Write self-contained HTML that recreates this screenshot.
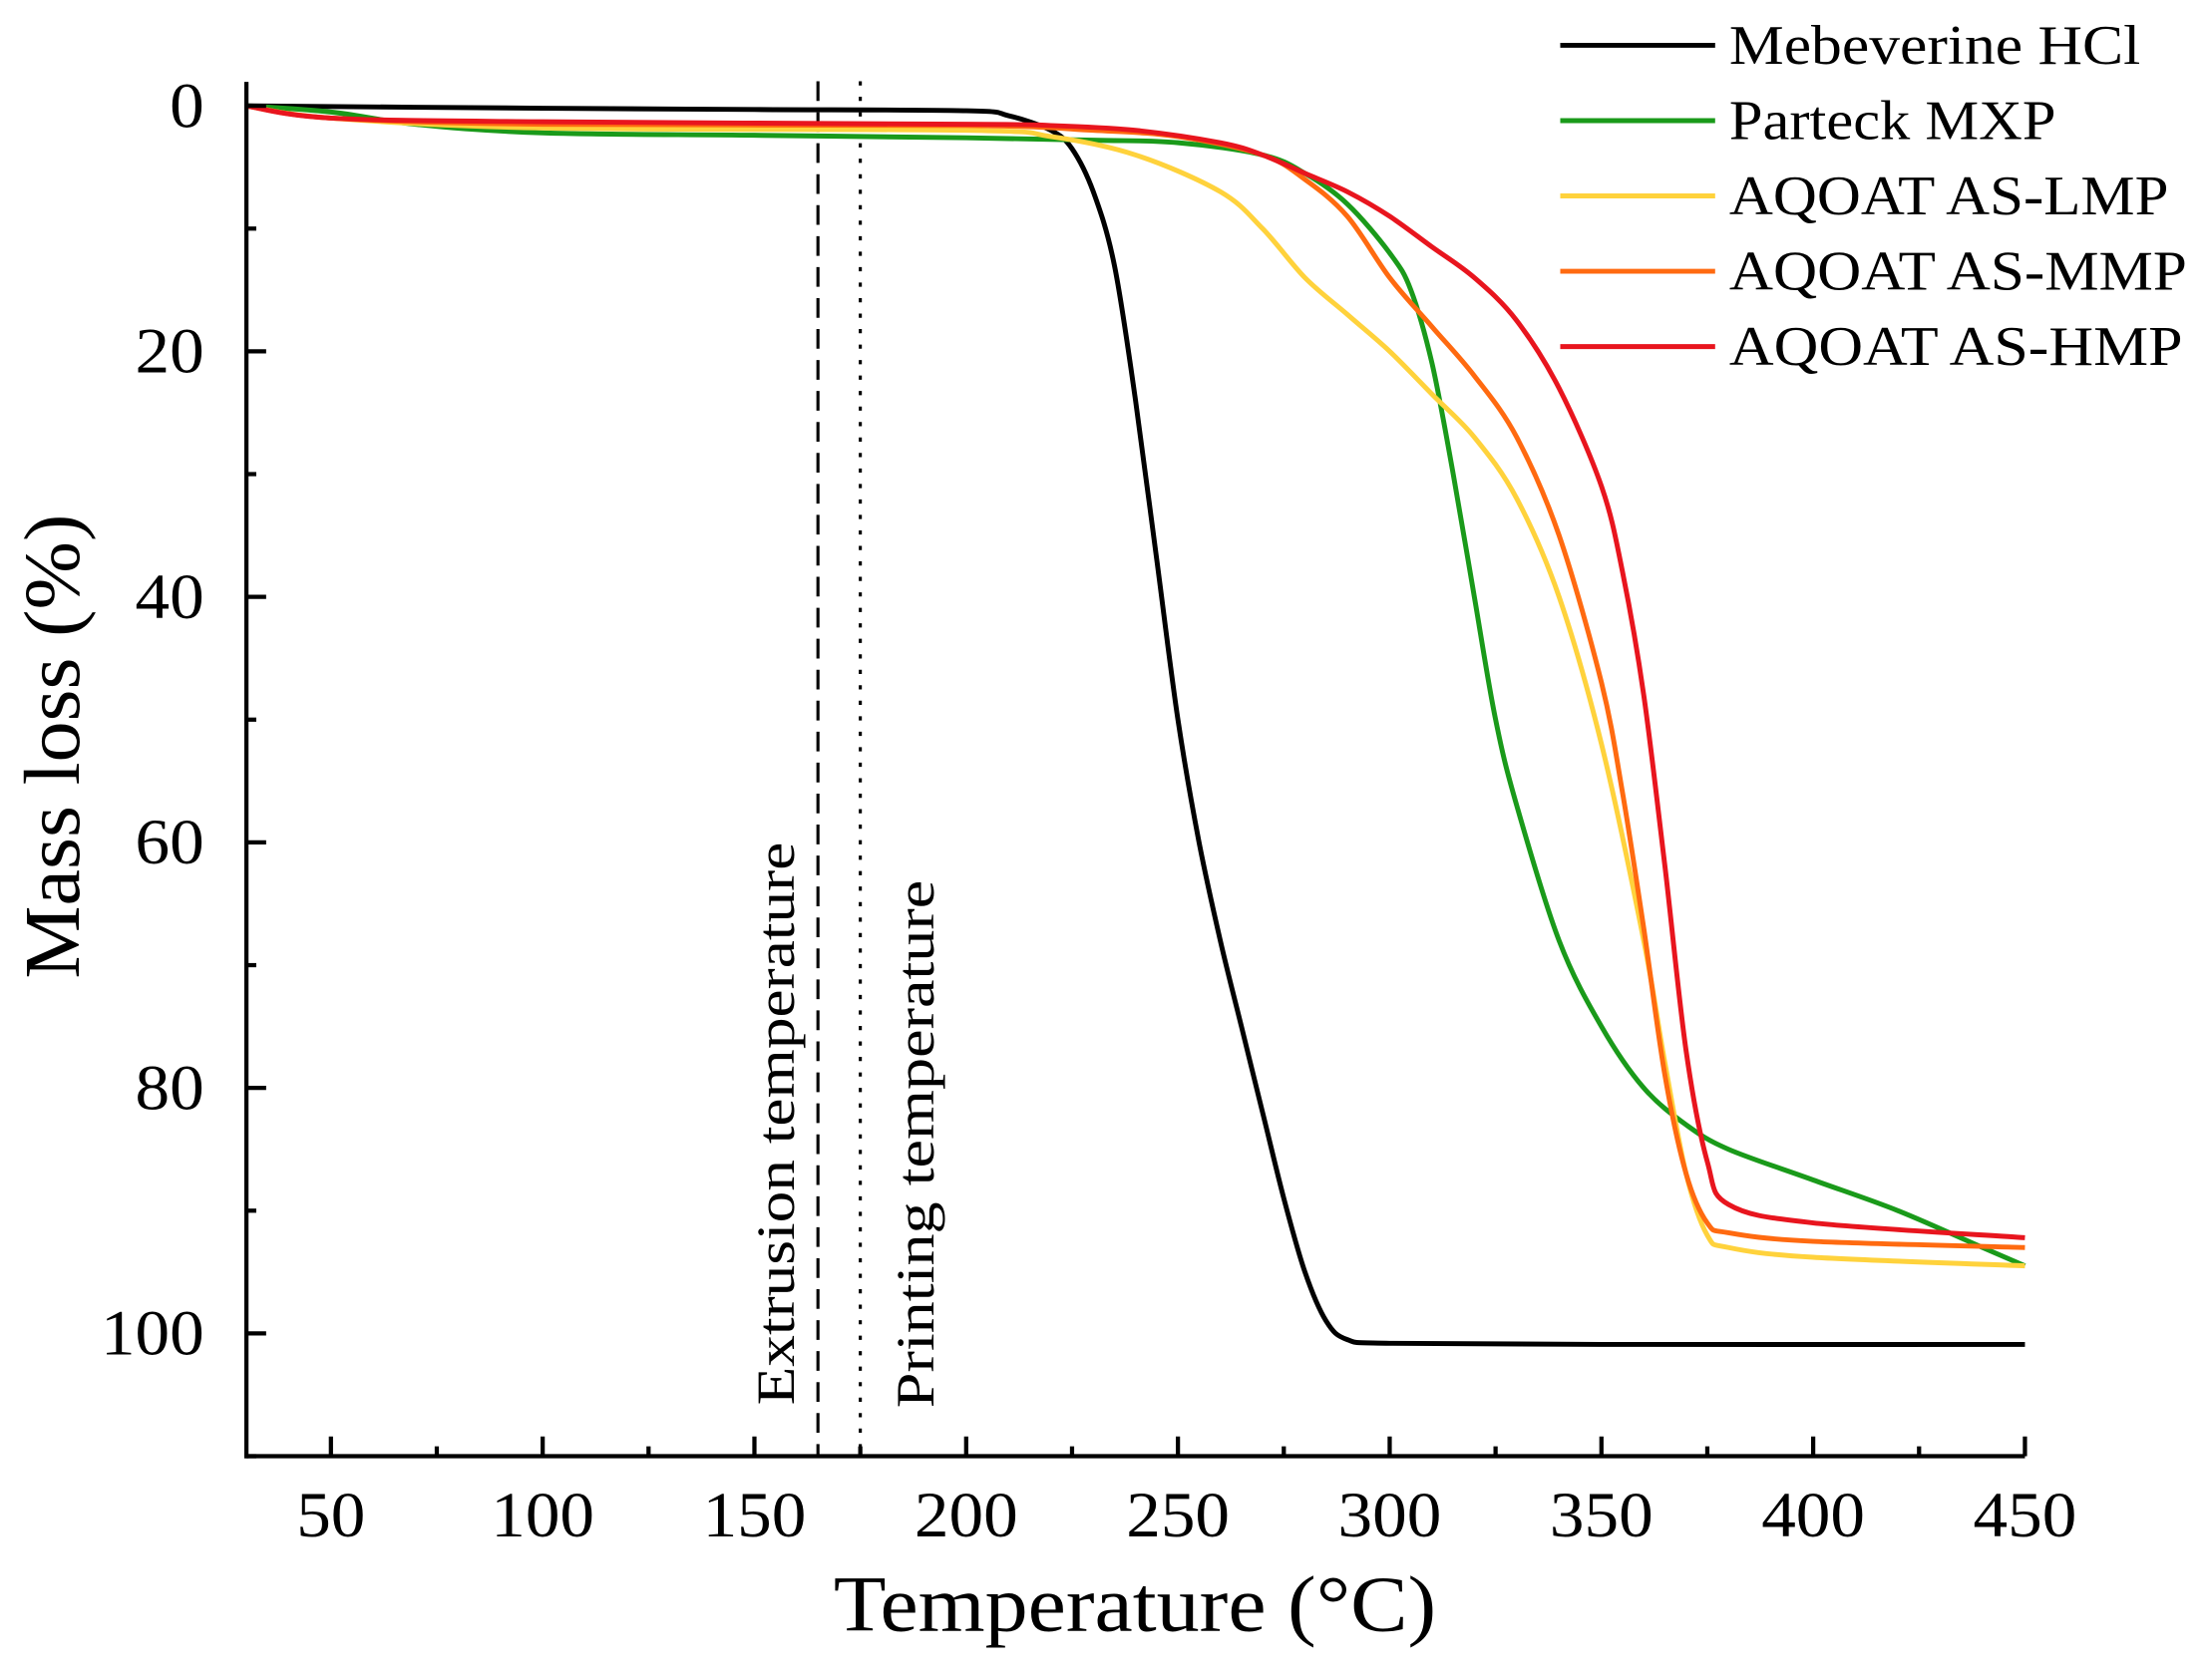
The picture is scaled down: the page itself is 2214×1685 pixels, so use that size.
<!DOCTYPE html>
<html><head><meta charset="utf-8"><style>
html,body{margin:0;padding:0;background:#fff;}
svg{display:block;font-family:"Liberation Serif",serif;}
</style></head><body>
<svg id="chart" width="2214" height="1685" viewBox="0 0 1568 1193" xmlns="http://www.w3.org/2000/svg"></svg>
<script>
const xTicks=[50,100,150,200,250,300,350,400,450];
const yTicks=[0,20,40,60,80,100];
const seriesNames=["Mebeverine HCl","Parteck MXP","AQOAT AS-LMP","AQOAT AS-MMP","AQOAT AS-HMP"];
const seriesColors=["#000000","#1a9a1a","#ffd23c","#ff6a10","#e8151e"];
const mebeverine=[[30,0],[100,0.2],[150,0.3],[200,0.4],[210,0.8],[220,2],[225,3.5],[230,7],[235,13],[240,24],[245,37],[250,50],[255,60],[260,68],[265,75],[270,82],[275,89],[280,95],[285,99],[290,100.5],[300,100.8],[350,100.9],[450,100.9]];
const parteck=[[30,0],[50,0.5],[70,1.5],[100,2.2],[150,2.4],[200,2.6],[230,2.8],[250,3],[270,4],[280,5.5],[290,8],[300,12],[305,15],[310,21],[315,30],[320,40],[325,50],[330,57],[340,68],[350,75],[360,80],[370,83],[380,85],[400,87.5],[420,90],[440,93],[450,94.5]];
const lmp=[[30,0],[50,1],[100,1.8],[200,2],[220,2.5],[240,4],[260,7],[270,10],[280,14],[290,17],[300,20],[310,23.5],[320,27],[330,32],[340,40],[350,52],[360,68],[365,78],[370,87],[375,92],[380,93],[400,93.8],[450,94.5]];
const mmp=[[30,0],[50,1],[100,1.5],[200,1.6],[230,2],[250,2.5],[270,4],[280,6],[290,9],[300,14],[310,18],[320,22],[330,27],[340,35],[350,47],[355,56],[360,67],[365,79],[370,87],[375,91],[380,91.8],[400,92.5],[450,93]];
const hmp=[[30,0],[50,1],[100,1.3],[200,1.5],[220,1.6],[240,2],[260,3],[270,4],[280,5.5],[290,7],[300,9],[310,11.5],[320,14],[330,17.5],[340,23],[350,31],[355,38],[360,48],[365,62],[370,77],[375,86],[380,89.5],[400,91],[450,92.2]];
const allSeries=[mebeverine,parteck,lmp,mmp,hmp];
const extrusionT=165, printingT=175;

const NS="http://www.w3.org/2000/svg";
const svg=document.getElementById('chart');
const L=175,R=1438;
const sx=v=>235+(v-50)*(1438-235)/400;
const sy=v=>75+v*(947-75)/100;
const T=sy(110);
function mk(tag,attrs,parent){const e=document.createElementNS(NS,tag);for(const k in attrs)e.setAttribute(k,attrs[k]);(parent||svg).appendChild(e);return e;}
function smooth(pts){
  let d='M'+pts[0][0].toFixed(1)+','+pts[0][1].toFixed(1);
  for(let i=0;i<pts.length-1;i++){
    const p0=pts[Math.max(0,i-1)],p1=pts[i],p2=pts[i+1],p3=pts[Math.min(pts.length-1,i+2)];
    const c1=[p1[0]+(p2[0]-p0[0])/6,p1[1]+(p2[1]-p0[1])/6];
    const c2=[p2[0]-(p3[0]-p1[0])/6,p2[1]-(p3[1]-p1[1])/6];
    d+=` C${c1[0].toFixed(1)},${c1[1].toFixed(1)} ${c2[0].toFixed(1)},${c2[1].toFixed(1)} ${p2[0].toFixed(1)},${p2[1].toFixed(1)}`;
  }
  return d;
}

let vl=mk('line',{x1:sx(extrusionT),x2:sx(extrusionT),y1:sy(-2),y2:T,stroke:'#000','stroke-width':2.2,'stroke-dasharray':'14,8'});


vl=mk('line',{x1:sx(printingT),x2:sx(printingT),y1:sy(-2),y2:T,stroke:'#000','stroke-width':2.2,'stroke-dasharray':'3,8'});


let t=mk('text',{x:0,y:0,transform:`translate(${sx(extrusionT)-17},998) rotate(-90)`,'font-size':38,textLength:400,lengthAdjust:'spacingAndGlyphs'});
t.textContent='Extrusion temperature';


t=mk('text',{x:0,y:0,transform:`translate(${sx(printingT)+52},1000) rotate(-90)`,'font-size':38,textLength:375,lengthAdjust:'spacingAndGlyphs'});
t.textContent='Printing temperature';



allSeries.forEach((s,i)=>{
  const p=mk('path',{d:smooth(s.map(d=>[sx(d[0]),sy(d[1])])),fill:'none',stroke:seriesColors[i],'stroke-width':3.5,'stroke-linejoin':'round'});
  
  
});

let ax=mk('line',{x1:L,x2:L,y1:58,y2:T+1.5,stroke:'#000','stroke-width':3});


ax=mk('line',{x1:L-1.5,x2:R,y1:T,y2:T,stroke:'#000','stroke-width':3});



xTicks.forEach((v,i)=>{
  mk('line',{x1:sx(v),x2:sx(v),y1:T,y2:T-14,stroke:'#000','stroke-width':3});
  if(i<xTicks.length-1) mk('line',{x1:sx(v+25),x2:sx(v+25),y1:T,y2:T-7,stroke:'#000','stroke-width':3});
  const l=mk('text',{x:sx(v),y:T+57,'text-anchor':'middle','font-size':46,textLength:String(v).length*24.5,lengthAdjust:'spacingAndGlyphs'});
  l.textContent=v;
  
  
});
yTicks.forEach(v=>{
  mk('line',{x1:L,x2:L+14,y1:sy(v),y2:sy(v),stroke:'#000','stroke-width':3});
  mk('line',{x1:L,x2:L+7,y1:sy(v+10),y2:sy(v+10),stroke:'#000','stroke-width':3});
  const l=mk('text',{x:145,y:sy(v)+15,'text-anchor':'end','font-size':46,textLength:String(v).length*24.5,lengthAdjust:'spacingAndGlyphs'});
  l.textContent=v;
  
  
});
t=mk('text',{x:806,y:1158,'text-anchor':'middle','font-size':56,textLength:428,lengthAdjust:'spacingAndGlyphs'});
t.textContent='Temperature (°C)';


t=mk('text',{x:0,y:0,transform:'translate(56,530) rotate(-90)','text-anchor':'middle','font-size':56,textLength:330,lengthAdjust:'spacingAndGlyphs'});
t.textContent='Mass loss (%)';



const legendW=[292,232,312,325,322];
seriesNames.forEach((n,i)=>{
  const y=32+i*53.5;
  const g=mk('g',{});
  
  
  mk('line',{x1:1108,x2:1218,y1:y,y2:y,stroke:seriesColors[i],'stroke-width':3.5},g);
  const l=mk('text',{x:1228,y:y+13,'font-size':40,textLength:legendW[i],lengthAdjust:'spacingAndGlyphs'},g);
  l.textContent=n;
});
</script>
</body></html>
